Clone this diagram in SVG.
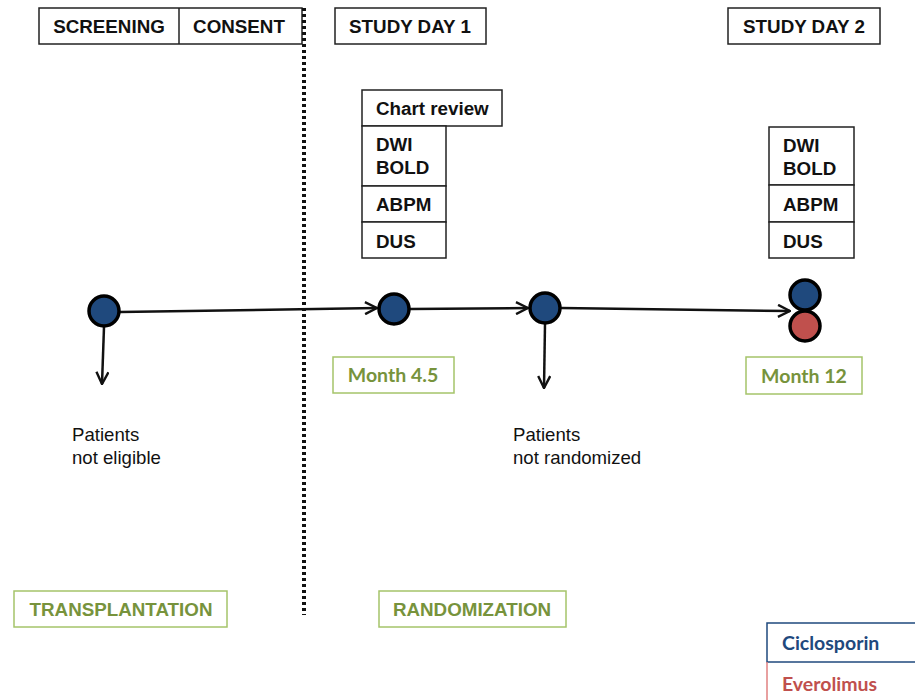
<svg xmlns="http://www.w3.org/2000/svg" width="915" height="700" viewBox="0 0 915 700">
<defs>
<style>
.box{fill:#fff;stroke:#222;stroke-width:1.5}
.gbox{fill:#fff;stroke:#a5c46a;stroke-width:1.5}
.t{font-family:"Liberation Sans",Arial,sans-serif;font-weight:bold;font-size:18.8px;fill:#111}
.g{font-family:"Liberation Sans",Arial,sans-serif;font-weight:bold;font-size:18.8px;fill:#77933c}
.c{font-family:Lato,"Open Sans",sans-serif;font-weight:bold;font-size:19.5px}
.p{font-family:"Liberation Sans",Arial,sans-serif;font-size:18.6px;fill:#111}
.edge{stroke:#111;stroke-width:2.5;fill:none}
.blue{fill:#1f497d;stroke:#000;stroke-width:3.5}
.red{fill:#c0504d;stroke:#000;stroke-width:3.5}
</style>
<marker id="arr" viewBox="0 0 14 14" refX="13" refY="7" markerWidth="14" markerHeight="14" markerUnits="userSpaceOnUse" orient="auto">
<path d="M1,1 L13,7 L1,13" fill="none" stroke="#111" stroke-width="2.4"/>
</marker>
</defs>

<g id="header-screening-consent">
<rect class="box" x="39" y="8" width="263" height="36"/>
<line x1="179" y1="8" x2="179" y2="44" stroke="#222" stroke-width="1.5"/>
<text class="t" x="109" y="33" text-anchor="middle">SCREENING</text>
<text class="t" x="239" y="33" text-anchor="middle">CONSENT</text>
</g>
<g id="header-day1">
<rect class="box" x="335" y="8" width="151" height="36"/>
<text class="t" x="410" y="33" text-anchor="middle">STUDY DAY 1</text>
</g>
<g id="header-day2">
<rect class="box" x="728" y="8" width="152" height="36"/>
<text class="t" x="804" y="33" text-anchor="middle">STUDY DAY 2</text>
</g>

<g id="divider">
<line x1="304" y1="8" x2="304" y2="615" stroke="#111" stroke-width="4" stroke-dasharray="3,3"/>
</g>

<g id="day1-tests">
<rect class="box" x="362" y="90" width="140" height="36"/>
<text class="t" x="376" y="115">Chart review</text>
<rect class="box" x="362" y="126" width="84" height="60"/>
<text class="t" x="376" y="151">DWI</text>
<text class="t" x="376" y="174">BOLD</text>
<rect class="box" x="362" y="186" width="84" height="36"/>
<text class="t" x="376" y="211">ABPM</text>
<rect class="box" x="362" y="222" width="84" height="36"/>
<text class="t" x="376" y="248">DUS</text>
</g>

<g id="day2-tests">
<rect class="box" x="769" y="127" width="85" height="58"/>
<text class="t" x="783" y="152">DWI</text>
<text class="t" x="783" y="175">BOLD</text>
<rect class="box" x="769" y="185" width="85" height="37"/>
<text class="t" x="783" y="211">ABPM</text>
<rect class="box" x="769" y="222" width="85" height="36"/>
<text class="t" x="783" y="248">DUS</text>
</g>

<g id="connectors">
<line class="edge" x1="120" y1="312" x2="377" y2="308" marker-end="url(#arr)"/>
<line class="edge" x1="410" y1="309" x2="528" y2="308" marker-end="url(#arr)"/>
<line class="edge" x1="561" y1="308" x2="790" y2="311" marker-end="url(#arr)"/>
<line class="edge" x1="104" y1="327" x2="102" y2="384" marker-end="url(#arr)"/>
<line class="edge" x1="545" y1="324" x2="544" y2="388" marker-end="url(#arr)"/>
</g>

<g id="node-transplant"><circle class="blue" cx="104" cy="311" r="15"/></g>
<g id="node-month45"><circle class="blue" cx="394" cy="309" r="15"/></g>
<g id="node-randomization"><circle class="blue" cx="545" cy="308" r="15"/></g>
<g id="node-month12">
<circle class="red" cx="805" cy="326" r="15"/>
<circle class="blue" cx="805" cy="295" r="15"/>
</g>

<g id="label-month45">
<rect class="gbox" x="333" y="357" width="121" height="36"/>
<text class="c" x="393" y="382" text-anchor="middle" fill="#77933c">Month 4.5</text>
</g>
<g id="label-month12">
<rect class="gbox" x="746" y="357" width="116" height="37"/>
<text class="c" x="804" y="383" text-anchor="middle" fill="#77933c">Month 12</text>
</g>

<g id="not-eligible">
<text class="p" x="72" y="441">Patients</text>
<text class="p" x="72" y="464">not eligible</text>
</g>
<g id="not-randomized">
<text class="p" x="513" y="441">Patients</text>
<text class="p" x="513" y="464">not randomized</text>
</g>

<g id="label-transplantation">
<rect class="gbox" x="14" y="591" width="213" height="36"/>
<text class="g" x="121" y="616" text-anchor="middle">TRANSPLANTATION</text>
</g>
<g id="label-randomization">
<rect class="gbox" x="379" y="591" width="187" height="36"/>
<text class="g" x="472" y="616" text-anchor="middle">RANDOMIZATION</text>
</g>

<g id="legend">
<rect x="767" y="623" width="160" height="39" fill="#fff" stroke="#1f497d" stroke-width="1.5"/>
<text class="c" x="782" y="650" fill="#1f497d">Ciclosporin</text>
<line x1="767" y1="662" x2="767" y2="700" stroke="#e08080" stroke-width="1.5"/>
<text class="c" x="782" y="691" fill="#c0504d">Everolimus</text>
</g>
</svg>
